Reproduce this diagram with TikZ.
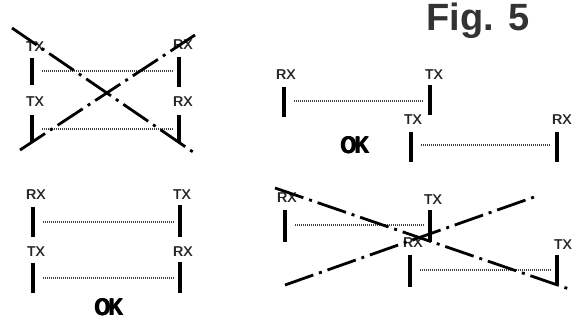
\documentclass[tikz,border=0pt]{standalone}
\usepackage{fontspec}
\usepackage{graphicx}
\setmainfont{Liberation Sans}
% overprint a text with a shifted copy of itself to thicken its strokes
\newcommand{\thicken}[2]{\rlap{#2}\kern#1\relax#2}
\newcommand{\tagfont}{\fontsize{14}{14}\selectfont}
\newcommand{\okfont}{\fontsize{24}{24}\selectfont\bfseries}
\newcommand{\figfont}{\fontsize{38}{38}\selectfont\bfseries}
\newcommand{\tagtext}[1]{\thicken{0.6pt}{#1}}
\newcommand{\oktext}{\scalebox{0.82}[1]{\thicken{0.8pt}{\thicken{0.8pt}{O\kern-1.5pt K}}}}
\begin{document}
\begin{tikzpicture}[x=1pt,y=-1pt,
  xbar/.style={fill=black, minimum width=4pt, minimum height=30pt, inner sep=0pt},
  tag/.style={font=\tagfont, inner sep=0pt, text=black!85},
  oktag/.style={font=\okfont, inner sep=0pt, text=black},
  link/.style={draw=black!75, line width=2pt, dash pattern=on 1pt off 1pt,
               shorten <=8pt, shorten >=4pt},
  cross/.style={draw=black, line width=2.8pt,
                dash pattern=on 30pt off 6pt on 3pt off 6pt}]
\useasboundingbox (0,0) rectangle (572,320);

\node[font=\figfont, text=black!80, inner sep=0pt] (fig) at (478,21) {Fig. 5};

% ---- top left: crossed-out pairing ----
\node[xbar, minimum height=27pt] (tlA) at (32,71.5) {};
\node[xbar, minimum height=27pt] (tlB) at (32,128.5) {};
\node[xbar] (tlC) at (179,72) {};
\node[xbar, minimum height=28pt] (tlD) at (179,129) {};
\node[tag] (tlAt) at (35,47) {\tagtext{TX}};
\node[tag] (tlBt) at (35,102) {\tagtext{TX}};
\node[tag] (tlCt) at (183,45) {\tagtext{RX}};
\node[tag] (tlDt) at (183,102) {\tagtext{RX}};
\draw[link] (tlA.east |- 0,71) -- (tlC.west |- 0,71);
\draw[link] (tlB.east |- 0,129) -- (tlD.west |- 0,129);
\coordinate (tlX1) at (12,28);
\coordinate (tlX2) at (193,152);
\coordinate (tlY1) at (20,150);
\coordinate (tlY2) at (195,35);
\draw[cross] (tlX1) -- (tlX2);
\draw[cross] (tlY1) -- (tlY2);

% ---- top right: staggered pairing, OK ----
\node[xbar] (trA) at (284,102) {};
\node[xbar] (trB) at (430,100) {};
\node[xbar] (trC) at (411,147) {};
\node[xbar] (trD) at (557,147) {};
\node[tag] (trAt) at (286,75) {\tagtext{RX}};
\node[tag] (trBt) at (434,75) {\tagtext{TX}};
\node[tag] (trCt) at (413,120) {\tagtext{TX}};
\node[tag] (trDt) at (562,120) {\tagtext{RX}};
\draw[link] (trA.east |- 0,101) -- (trB.west |- 0,101);
\draw[link] (trC.east |- 0,145) -- (trD.west |- 0,145);
\node[oktag] (trOK) at (355,145) {\oktext};

% ---- bottom left: crossed pairing, OK ----
\node[xbar] (blA) at (33,222) {};
\node[xbar, minimum height=32pt] (blB) at (180,221) {};
\node[xbar] (blC) at (33,278) {};
\node[xbar, minimum height=31pt] (blD) at (180,277.5) {};
\node[tag] (blAt) at (36,195) {\tagtext{RX}};
\node[tag] (blBt) at (182,195) {\tagtext{TX}};
\node[tag] (blCt) at (36,252) {\tagtext{TX}};
\node[tag] (blDt) at (183,252) {\tagtext{RX}};
\draw[link] (blA.east |- 0,222) -- (blB.west |- 0,222);
\draw[link] (blC.east |- 0,278) -- (blD.west |- 0,278);
\node[oktag] (blOK) at (109,307) {\oktext};

% ---- bottom right: crossed-out staggered pairing ----
\node[xbar, minimum height=32pt] (brA) at (285,226) {};
\node[xbar, minimum height=32pt] (brB) at (430,226) {};
\node[xbar, minimum height=32pt] (brC) at (410,271) {};
\node[xbar] (brD) at (557,270) {};
\node[tag] (brAt) at (287,198) {\tagtext{RX}};
\node[tag] (brBt) at (433,200) {\tagtext{TX}};
\node[tag] (brCt) at (413,243) {\tagtext{RX}};
\node[tag] (brDt) at (563,245) {\tagtext{TX}};
\draw[link] (brA.east |- 0,225) -- (brB.west |- 0,225);
\draw[link] (brC.east |- 0,270) -- (brD.west |- 0,270);
\coordinate (brX1) at (275,188);
\coordinate (brX2) at (572,290);
\coordinate (brY1) at (285,285);
\coordinate (brY2) at (537,196);
\draw[cross] (brX1) -- (brX2);
\draw[cross] (brY1) -- (brY2);
\end{tikzpicture}
\end{document}
